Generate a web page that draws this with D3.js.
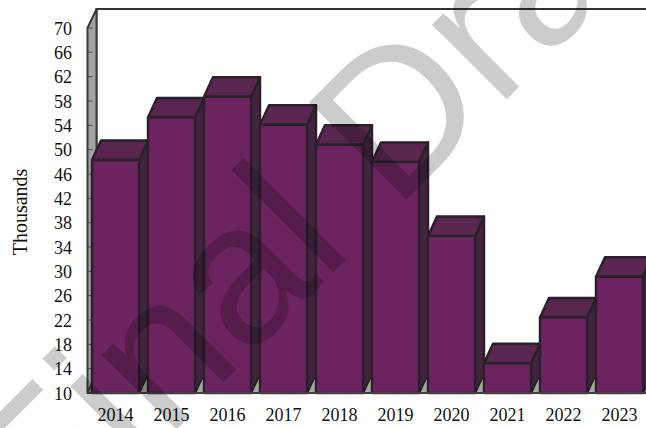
<!DOCTYPE html>
<html><head><meta charset="utf-8">
<script src="https://cdn.jsdelivr.net/npm/d3@7/dist/d3.min.js"></script>
<style>html,body{margin:0;padding:0;background:#fff}svg{display:block}</style></head>
<body><svg id="c" width="646" height="428"></svg>
<script>
const years=["2014","2015","2016","2017","2018","2019","2020","2021","2022","2023"];
const values=[48.3,55.3,58.7,54.1,50.8,48,35.8,14.9,22.4,29.1];
const yTicks=[10,14,18,22,26,30,34,38,42,46,50,54,58,62,66,70];
const axisTitle="Thousands";
const watermark="Final Draft";

const svg=d3.select("#c");
const font="'Liberation Serif','Times New Roman',serif";
const y=d3.scaleLinear().domain([10,70]).range([393,28]);
const x=d3.scaleBand().domain(years).range([87.5,647.5]).paddingInner(0.16).paddingOuter(0.08);
const dx=9,dy=-19.5,edge="#2a2028",ew=2.4;
const leftX=x.range()[0],floorY=y(10),topY=y(70),rightX=660;
const poly=(p,f,s,w)=>svg.append("polygon").attr("points",p.map(d=>d.join(",")).join(" ")).attr("fill",f).attr("stroke",s||"none").attr("stroke-width",w||0).attr("stroke-linejoin","round");

// back wall, floor, side wall
svg.append("path").attr("d",`M${leftX+dx},${floorY-19}V${topY-19}H${rightX}`).attr("fill","none").attr("stroke","#333").attr("stroke-width",2);
poly([[leftX,floorY],[leftX+dx,floorY+dy],[rightX,floorY+dy],[rightX,floorY]],"#a3a3a6");
poly([[leftX,floorY],[leftX,topY],[leftX+dx,topY-19],[leftX+dx,floorY+dy]],"#a3a3a6","#3a3a3a",2);
// ticks
svg.append("g").selectAll("line").data(yTicks).join("line")
 .attr("x1",leftX).attr("x2",leftX+5).attr("y1",d=>y(d)).attr("y2",d=>y(d)).attr("stroke","#444").attr("stroke-width",1);
// bars
years.forEach((yr,i)=>{
 const x0=x(yr),x1=x0+x.bandwidth(),t=y(values[i]);
 poly([[x1,floorY],[x1,t],[x1+dx,t+dy],[x1+dx,floorY+dy]],"#43233f",edge,ew);
 poly([[x0,t],[x0+dx,t+dy],[x1+dx,t+dy],[x1,t]],"#58264f",edge,ew);
 poly([[x0,floorY],[x0,t],[x1,t],[x1,floorY]],"#6b2460",edge,ew);
});
svg.append("line").attr("x1",leftX).attr("x2",rightX).attr("y1",floorY).attr("y2",floorY).attr("stroke","#3f3f3f").attr("stroke-width",2);
// labels
svg.append("g").selectAll("text").data(yTicks).join("text")
 .attr("x",72).attr("y",d=>y(d)+6.5).attr("text-anchor","end").attr("font-family",font).attr("font-size",18).attr("fill","#111").text(d=>d);
svg.append("g").selectAll("text").data(years).join("text")
 .attr("x",d=>x(d)+x.bandwidth()/2).attr("y",421).attr("text-anchor","middle").attr("font-family",font).attr("font-size",18).attr("fill","#111").text(d=>d);
svg.append("text").attr("transform","translate(27,212) rotate(-90)").attr("text-anchor","middle").attr("font-family",font).attr("font-size",20).attr("fill","#111").text(axisTitle);
// watermark
svg.append("text").attr("transform","translate(49,557) rotate(-45)").attr("font-family","'Liberation Sans',sans-serif").attr("font-size",200)
 .attr("fill","#000").attr("fill-opacity",0.2).text(watermark);
</script></body></html>
